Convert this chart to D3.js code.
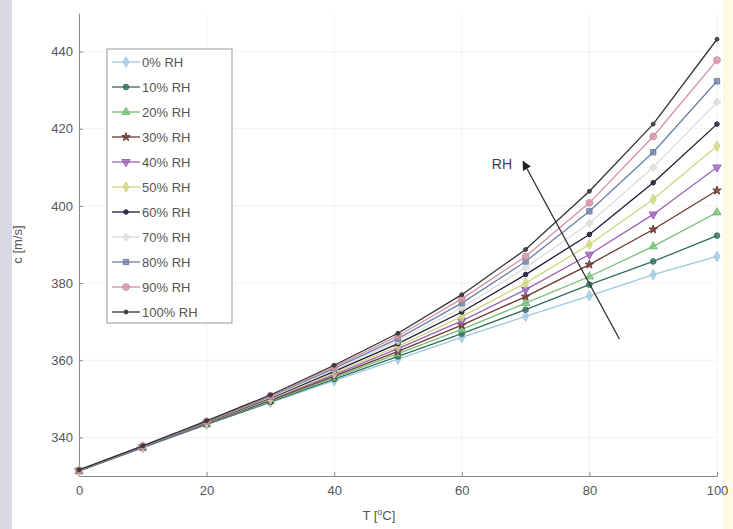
<!DOCTYPE html>
<html lang="en">
<head>
<meta charset="utf-8">
<title>Speed of sound vs temperature</title>
<script src="https://cdn.jsdelivr.net/npm/d3@7"></script>
<style>
 body { margin: 0; background: #fff; }
 text { font-family: "Liberation Sans", Arial, sans-serif; }
</style>
</head>
<body>
<script>
 // data
 var temps = [0, 10, 20, 30, 40, 50, 60, 70, 80, 90, 100];
 var labels = ["0% RH", "10% RH", "20% RH", "30% RH", "40% RH", "50% RH",
               "60% RH", "70% RH", "80% RH", "90% RH", "100% RH"];
 var rh0   = [331.3, 337.3, 343.3, 349.0, 354.7, 360.3, 365.9, 371.4, 376.7, 382.2, 386.9];
 var rh10  = [331.3, 337.4, 343.4, 349.2, 355.1, 361.0, 366.9, 373.1, 379.6, 385.6, 392.3];
 var rh20  = [331.3, 337.4, 343.5, 349.4, 355.5, 361.7, 368.0, 374.8, 381.7, 389.5, 398.3];
 var rh30  = [331.4, 337.5, 343.6, 349.6, 355.9, 362.3, 369.1, 376.5, 384.8, 393.9, 404.0];
 var rh40  = [331.4, 337.5, 343.7, 349.8, 356.3, 363.0, 370.2, 378.3, 387.4, 397.8, 410.0];
 var rh50  = [331.4, 337.6, 343.8, 350.0, 356.7, 363.6, 371.3, 380.0, 390.0, 401.7, 415.5];
 var rh60  = [331.4, 337.6, 343.9, 350.2, 357.1, 364.3, 372.5, 382.2, 392.6, 406.0, 421.2];
 var rh70  = [331.5, 337.7, 344.0, 350.4, 357.5, 365.0, 373.6, 384.0, 395.5, 410.0, 426.9];
 var rh80  = [331.5, 337.7, 344.1, 350.6, 357.9, 365.6, 374.8, 385.6, 398.6, 413.9, 432.3];
 var rh90  = [331.5, 337.8, 344.2, 350.8, 358.3, 366.3, 375.9, 386.9, 400.8, 418.0, 437.8];
 var rh100 = [331.6, 337.8, 344.3, 351.0, 358.7, 367.0, 377.0, 388.7, 403.8, 421.2, 443.2];
 var series = [rh0, rh10, rh20, rh30, rh40, rh50, rh60, rh70, rh80, rh90, rh100];
 var xTicks = [0, 20, 40, 60, 80, 100];
 var yTicks = [340, 360, 380, 400, 420, 440];

 // styles per series
 var colors = ["#9cc8e0", "#2f6e5c", "#74bf78", "#6b3a30", "#9a62b8", "#cdd67c",
               "#1c1c34", "#dcdcdc", "#6b80a6", "#d390a2", "#333333"];
 var shapes = [d3.symbolDiamond, d3.symbolCircle, d3.symbolTriangle, d3.symbolStar,
               d3.symbolTriangle, d3.symbolDiamond, d3.symbolCircle, d3.symbolCross,
               d3.symbolSquare, d3.symbolCircle, d3.symbolCircle];
 var sizes = [30, 24, 30, 22, 30, 30, 16, 24, 28, 36, 12];
 var flip = [0, 0, 0, 0, 180, 0, 0, 0, 0, 0, 0];

 var W = 733, H = 529;
 var margin = {top: 13, right: 16, bottom: 53, left: 79};

 var svg = d3.select("body").append("svg")
     .attr("width", W).attr("height", H);

 // edge strips from the scan
 svg.append("rect").attr("x", 0).attr("y", 0).attr("width", 12).attr("height", H)
    .attr("fill", "#d9d9e6");
 svg.append("rect").attr("x", 723).attr("y", 0).attr("width", 10).attr("height", H)
    .attr("fill", "#fdf9e4");

 var x = d3.scaleLinear().domain([0, 100]).range([margin.left, W - margin.right]);
 var y = d3.scaleLinear().domain([330, 450]).range([H - margin.bottom, margin.top]);

 // faint grid
 svg.append("g").selectAll("line").data(xTicks.slice(1)).enter().append("line")
    .attr("x1", function (d) { return x(d); }).attr("x2", function (d) { return x(d); })
    .attr("y1", y(330)).attr("y2", y(450))
    .attr("stroke", "#f2f2f2");
 svg.append("g").selectAll("line").data(yTicks).enter().append("line")
    .attr("x1", x(0)).attr("x2", x(100))
    .attr("y1", function (d) { return y(d); }).attr("y2", function (d) { return y(d); })
    .attr("stroke", "#f2f2f2");

 // axes
 var xAxis = svg.append("g")
     .attr("transform", "translate(0," + y(330) + ")")
     .call(d3.axisBottom(x).tickValues(xTicks).tickSizeInner(-4).tickSizeOuter(0).tickPadding(10));
 var yAxis = svg.append("g")
     .attr("transform", "translate(" + x(0) + ",0)")
     .call(d3.axisLeft(y).tickValues(yTicks).tickSizeInner(-4).tickSizeOuter(0).tickPadding(6));
 [xAxis, yAxis].forEach(function (a) {
     a.select(".domain").attr("stroke", "#888");
     a.selectAll(".tick line").attr("stroke", "#888");
     a.selectAll(".tick text").attr("fill", "#555").style("font-size", "13px");
 });

 // axis titles
 svg.append("text")
    .attr("transform", "translate(22," + y(390) + ") rotate(-90)")
    .attr("text-anchor", "middle").attr("fill", "#555").style("font-size", "13px")
    .text("c [m/s]");
 var xt = svg.append("text")
    .attr("x", x(47)).attr("y", 520)
    .attr("text-anchor", "middle").attr("fill", "#555").style("font-size", "13px");
 xt.append("tspan").text("T [");
 xt.append("tspan").attr("dy", -5).style("font-size", "9px").text("o");
 xt.append("tspan").attr("dy", 5).text("C]");

 var line = d3.line()
     .x(function (d, i) { return x(temps[i]); })
     .y(function (d) { return y(d); });

 function marker(g, i) {
     g.append("path")
      .attr("d", d3.symbol().type(shapes[i]).size(sizes[i]))
      .attr("transform", "rotate(" + flip[i] + ")")
      .attr("fill", colors[i])
      .attr("fill-opacity", 0.75)
      .attr("stroke", colors[i]);
 }

 series.forEach(function (s, i) {
     var g = svg.append("g");
     g.append("path").datum(s)
      .attr("d", line)
      .attr("fill", "none")
      .attr("stroke", colors[i])
      .attr("stroke-width", 1.3);
     g.selectAll("g").data(s).enter().append("g")
      .attr("transform", function (d, j) { return "translate(" + x(temps[j]) + "," + y(d) + ")"; })
      .each(function () { marker(d3.select(this), i); });
 });

 // arrow annotation
 svg.append("defs").append("marker")
    .attr("id", "head").attr("viewBox", "0 0 10 10")
    .attr("refX", 9).attr("refY", 5)
    .attr("markerWidth", 7).attr("markerHeight", 7)
    .attr("orient", "auto")
    .append("path").attr("d", "M0,0 L10,5 L0,10 z").attr("fill", "#222");
 svg.append("line")
    .attr("x1", x(84.7)).attr("y1", y(365.5))
    .attr("x2", x(69.6)).attr("y2", y(411.5))
    .attr("stroke", "#333").attr("stroke-width", 1.3)
    .attr("marker-end", "url(#head)");
 svg.append("text")
    .attr("x", x(64.7)).attr("y", y(409.5))
    .attr("fill", "#444").style("font-size", "14px")
    .text("RH");

 // legend
 var leg = svg.append("g").attr("transform", "translate(107,49)");
 leg.append("rect").attr("width", 125).attr("height", 274)
    .attr("fill", "#fff").attr("stroke", "#999");
 labels.forEach(function (lab, i) {
     var row = leg.append("g").attr("transform", "translate(0," + (13 + i * 25) + ")");
     row.append("line").attr("x1", 5).attr("x2", 33)
        .attr("stroke", colors[i]).attr("stroke-width", 1.3);
     var m = row.append("g").attr("transform", "translate(19,0)");
     marker(m, i);
     row.append("text").attr("x", 35).attr("y", 5)
        .attr("fill", "#555").style("font-size", "13px").text(lab);
 });
</script>
</body>
</html>
